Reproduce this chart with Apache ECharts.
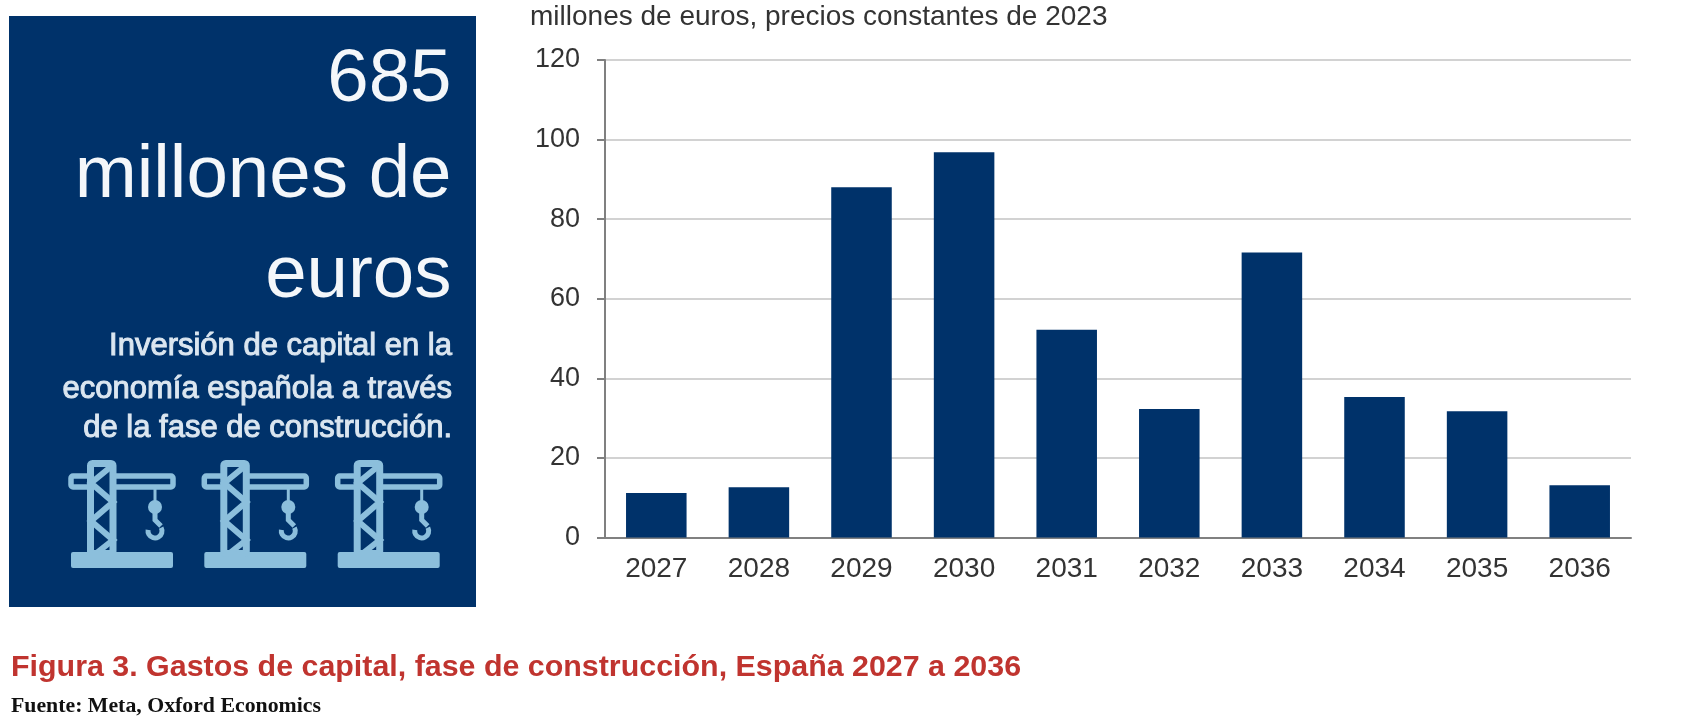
<!DOCTYPE html>
<html><head><meta charset="utf-8">
<style>html,body{margin:0;padding:0;background:#fff}#c{width:1706px;height:722px}</style>
<script src="https://cdn.jsdelivr.net/npm/echarts@6/dist/echarts.min.js"></script>
</head><body><div id="c"></div>
<script>
const years = ['2027','2028','2029','2030','2031','2032','2033','2034','2035','2036'];
const capex = [11.2,12.6,88,96.8,52.2,32.3,71.6,35.3,31.7,13.1];
const yTicks = {min:0,max:120,interval:20};
const unitLabel = 'millones de euros, precios constantes de 2023';
const figureTitle = 'Figura 3. Gastos de capital, fase de construcción, España 2027 a 2036';
const sourceLine = 'Fuente: Meta, Oxford Economics';
const panelBig = ['685','millones de','euros'];
const panelSmall = ['Inversión de capital en la','economía española a través','de la fase de construcción.'];
const NAVY='#00326a', ICON='#8cbfdc';
const chart = echarts.init(document.getElementById('c'),null,{renderer:'canvas'});
const SANS='"Liberation Sans",Arial,sans-serif';
function crane(dx){
  const line=(pts,w)=>({type:'polyline',shape:{points:pts.map(p=>[p[0]+dx,p[1]])},style:{stroke:ICON,lineWidth:w||6,fill:null,lineCap:'butt',lineJoin:'miter'}});
  return [
    {type:'rect',shape:{x:71+dx,y:552,width:102,height:16,r:2},style:{fill:ICON}},
    {type:'rect',shape:{x:71+dx,y:476,width:102,height:11,r:2},style:{fill:NAVY,stroke:ICON,lineWidth:5.5}},
    {type:'rect',shape:{x:90.5+dx,y:463.5,width:22.5,height:90,r:2},style:{fill:NAVY,stroke:ICON,lineWidth:7}},
    line([[113,465],[91,483],[113,502],[91,521],[113,540],[94,555]],6),
    line([[155,489],[155,502]],3),
    {type:'circle',shape:{cx:155+dx,cy:507,r:7},style:{fill:ICON}},
    line([[155,513],[155,520],[161,526]],5),
    {type:'arc',shape:{cx:155+dx,cy:531,r:7,startAngle:-0.5,endAngle:Math.PI*1.05,clockwise:true},style:{stroke:ICON,lineWidth:5,fill:null}}
  ];
}
const txt=(s,x,y,size,color,align,weight,font,extra)=>({type:'text',x,y,style:Object.assign({text:s,fill:color,font:`${weight||'normal'} ${size}px ${font||SANS}`,textAlign:align||'left',textVerticalAlign:'middle'},extra||{})});
const soft={stroke:'#dbe6f0',lineWidth:1};
chart.setOption({
  animation:false,
  backgroundColor:'#fff',
  grid:{left:605,top:60,width:1026,height:477.5,containLabel:false},
  xAxis:{type:'category',data:years,
    axisLine:{lineStyle:{color:'#808080',width:2}},axisTick:{show:false},
    axisLabel:{color:'#333',fontFamily:SANS,fontSize:28,margin:18}},
  yAxis:{type:'value',min:yTicks.min,max:yTicks.max,interval:yTicks.interval,
    axisLine:{show:true,lineStyle:{color:'#808080',width:2}},
    axisTick:{show:true,length:8,lineStyle:{color:'#808080',width:2}},
    splitLine:{lineStyle:{color:'#d2d2d2',width:2}},
    axisLabel:{color:'#333',fontFamily:SANS,fontSize:27,margin:25}},
  series:[{type:'bar',data:capex,barWidth:'59%',itemStyle:{color:NAVY}}],
  graphic:[
    {type:'rect',z:-1,shape:{x:9,y:16,width:467,height:591},style:{fill:NAVY}},
    txt(panelBig[0],451.5,80,74.5,'#f4f7fa','right'),
    txt(panelBig[1],451.5,176,74.5,'#f4f7fa','right'),
    txt(panelBig[2],451.5,276,74.5,'#f4f7fa','right'),
    txt(panelSmall[0],452,346,31,'#dbe6f0','right','normal',null,soft),
    txt(panelSmall[1],452,389,31,'#dbe6f0','right','normal',null,soft),
    txt(panelSmall[2],452,428,31,'#dbe6f0','right','normal',null,soft),
    ...crane(0),...crane(133.3),...crane(266.7),
    txt(unitLabel,530,17,28,'#333'),
    txt(figureTitle,11,668,30.4,'#c0342f','left','bold'),
    txt(sourceLine,11,706,21.8,'#111','left','bold','"Liberation Serif",serif')
  ]
});
</script></body></html>
